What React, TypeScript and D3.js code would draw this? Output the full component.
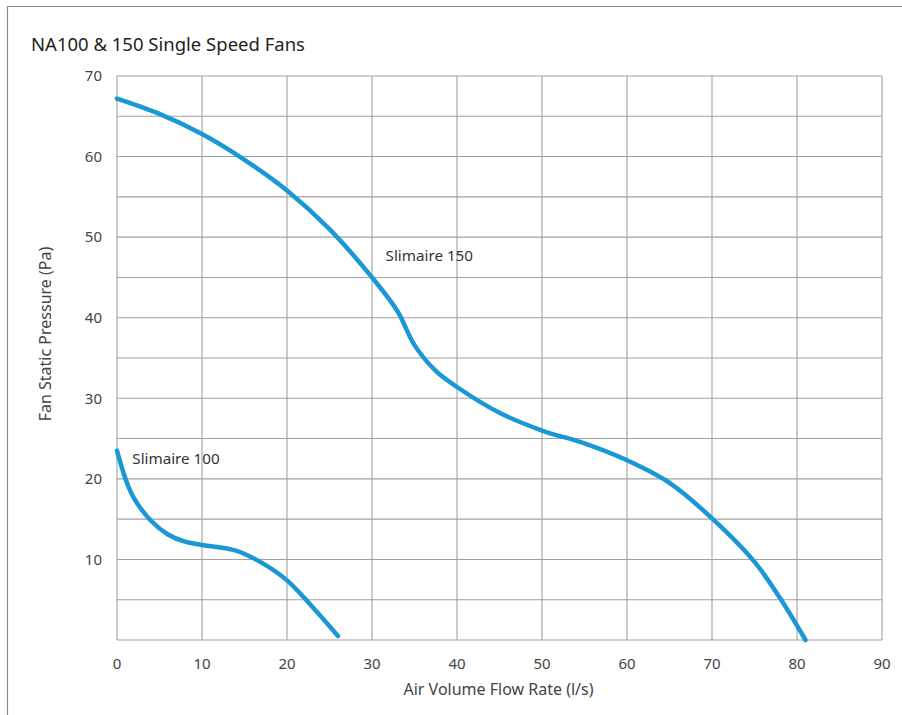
import {curveCatmullRom, line, range, scaleLinear} from "d3";

const X_TICKS = [0, 10, 20, 30, 40, 50, 60, 70, 80, 90];
const Y_TICKS = [10, 20, 30, 40, 50, 60, 70];
const Y_GRID = range(0, 71, 5);

const SLIMAIRE_150_FLOW = [0, 5, 10, 15, 20, 25, 30, 33, 35, 37.5, 40, 45, 50, 55, 60, 65, 70, 75, 78, 81];
const SLIMAIRE_150_PRESSURE = [67.2, 65.3, 62.8, 59.6, 55.8, 51.0, 45.0, 40.8, 36.6, 33.4, 31.4, 28.2, 26.0, 24.4, 22.3, 19.5, 15.1, 9.7, 5.2, 0];

const SLIMAIRE_100_FLOW = [0, 1, 2, 4, 6, 8, 10, 14, 17, 20, 23, 26];
const SLIMAIRE_100_PRESSURE = [23.5, 20.0, 17.6, 14.8, 13.1, 12.2, 11.8, 11.1, 9.6, 7.4, 4.1, 0.5];

type Point = {flow: number; pressure: number};

function zip(flow: number[], pressure: number[]): Point[] {
  return flow.map((f, i) => ({flow: f, pressure: pressure[i]}));
}

const FONT = "'Noto Sans', 'Open Sans', sans-serif";
const BLUE = "#1a98d5";
const GRID = "#a0a0a0";

export default function App() {
  const width = 902;
  const height = 715;
  const margins = {top: 76, right: 20, bottom: 75, left: 117};
  const innerWidth = 882 - margins.left;
  const innerHeight = 640 - margins.top;

  const x = scaleLinear().domain([0, 90]).range([0, innerWidth]);
  const y = scaleLinear().domain([0, 70]).range([innerHeight, 0]);

  const lineGenerator = line<Point>()
    .x((d) => x(d.flow))
    .y((d) => y(d.pressure))
    .curve(curveCatmullRom.alpha(0.5));

  const series = [
    zip(SLIMAIRE_150_FLOW, SLIMAIRE_150_PRESSURE),
    zip(SLIMAIRE_100_FLOW, SLIMAIRE_100_PRESSURE)
  ];

  return (
    <svg
      width={width}
      height={height}
      style={{position: "absolute", left: 0, top: 0, background: "#fff"}}
      fontFamily={FONT}
    >
      <polyline points={`7.5,${height} 7.5,6.5 ${width},6.5`} fill="none" stroke="#8a8a8a" strokeWidth={1.2} />

      <text x={31} y={51} fontSize={18.5} fill="#231f20">
        NA100 &amp; 150 Single Speed Fans
      </text>

      <g transform={`translate(${margins.left},${margins.top})`}>
        {Y_GRID.map((tick) => (
          <line key={`gy-${tick}`} x1={0} x2={innerWidth} y1={y(tick)} y2={y(tick)} stroke={GRID} strokeWidth={1.1} />
        ))}
        {X_TICKS.map((tick) => (
          <line key={`gx-${tick}`} x1={x(tick)} x2={x(tick)} y1={0} y2={innerHeight} stroke={GRID} strokeWidth={1.1} />
        ))}

        {Y_TICKS.map((tick) => (
          <text key={`ly-${tick}`} x={-15} y={y(tick)} dy="0.35em" textAnchor="end" fontSize={15} fill="#444">
            {tick}
          </text>
        ))}
        {X_TICKS.map((tick) => (
          <text key={`lx-${tick}`} x={x(tick)} y={innerHeight + 29} textAnchor="middle" fontSize={15} fill="#444">
            {tick}
          </text>
        ))}

        <text x={innerWidth / 2 - 1} y={innerHeight + 55} textAnchor="middle" fontSize={16} fill="#444">
          Air Volume Flow Rate (l/s)
        </text>
        <text
          transform={`translate(${-66},${innerHeight / 2 - 24}) rotate(-90)`}
          textAnchor="middle"
          fontSize={16}
          fill="#444"
        >
          Fan Static Pressure (Pa)
        </text>

        {series.map((points, i) => (
          <path
            key={i}
            d={lineGenerator(points) ?? ""}
            fill="none"
            stroke={BLUE}
            strokeWidth={4.5}
            strokeLinecap="round"
          />
        ))}

        <text x={x(31.6)} y={y(47)} fontSize={15.2} fill="#333">
          Slimaire 150
        </text>
        <text x={x(1.8)} y={y(21.8)} fontSize={15.2} fill="#333">
          Slimaire 100
        </text>
      </g>
    </svg>
  );
}
